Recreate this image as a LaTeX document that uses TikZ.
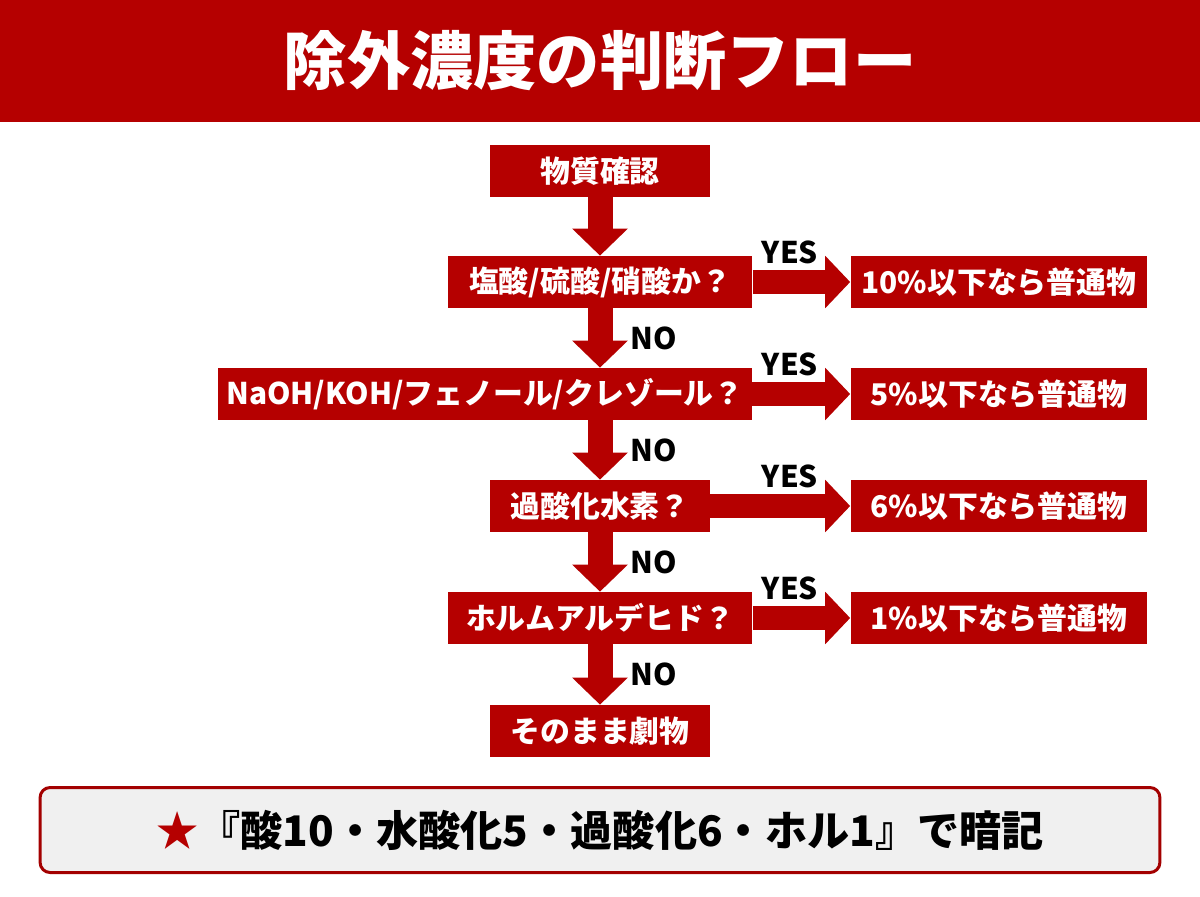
\documentclass[tikz,border=0pt]{standalone}
\usepackage{fontspec}
\setmainfont{Noto Sans CJK JP}
\usetikzlibrary{arrows.meta, calc}
\definecolor{flow-red}{HTML}{B50000}
\definecolor{note-gray}{HTML}{F0F0F0}
\definecolor{note-border}{HTML}{A30000}
\tikzset{
    my-title/.style={
        fill=flow-red, text=white, inner sep=0pt,
        minimum width=24cm, minimum height=2.44cm,
        font=\fontsize{36}{40}\selectfont\bfseries
    },
    my-step/.style={
        fill=flow-red, text=white, inner sep=0pt, minimum height=1.04cm,
        font=\fontsize{17}{20}\selectfont\bfseries
    },
    my-label/.style={
        inner sep=0pt, font=\fontsize{17}{20}\selectfont\bfseries
    },
    my-down-arrow/.style={
        draw=flow-red, line width=0.5cm, -{Triangle[length=0.54cm, width=1.08cm]}
    },
    my-yes-arrow/.style={
        draw=flow-red, line width=0.47cm, -{Triangle[length=0.5cm, width=1.02cm]}
    },
    my-note/.style={
        draw=note-border, fill=note-gray, line width=0.06cm, rounded corners=0.2cm,
        minimum width=22.4cm, minimum height=1.7cm, inner sep=0pt,
        font=\fontsize{24}{28}\selectfont\bfseries
    },
}

\begin{document}
\begin{tikzpicture}[x=0.02cm, y=-0.02cm]

        \useasboundingbox (0,0) rectangle (1200,896);

        % TITLE
        \node[my-title] (TITLE) at (600,61) {除外濃度の判断フロー};

        % DECISION STEPS
        \node[my-step, minimum width=4.4cm]   (START) at (600,171) {物質確認};
        \node[my-step, minimum width=6.1cm]   (Q1)    at (600,282) {塩酸/硫酸/硝酸か？};
        \node[my-step, minimum width=10.68cm] (Q2)    at (485,394) {NaOH/KOH/フェノール/クレゾール？};
        \node[my-step, minimum width=4.4cm]   (Q3)    at (600,506) {過酸化水素？};
        \node[my-step, minimum width=6.1cm]   (Q4)    at (600,618) {ホルムアルデヒド？};
        \node[my-step, minimum width=4.4cm]   (END)   at (600,731) {そのまま劇物};

        % RESULTS
        \node[my-step, minimum width=5.94cm] (R1) at (999,282) {10\%以下なら普通物};
        \node[my-step, minimum width=5.94cm] (R2) at (999,394) {5\%以下なら普通物};
        \node[my-step, minimum width=5.94cm] (R3) at (999,506) {6\%以下なら普通物};
        \node[my-step, minimum width=5.94cm] (R4) at (999,618) {1\%以下なら普通物};

        % NO ARROWS
        \draw[my-down-arrow] (START) -- (Q1);
        \draw[my-down-arrow] (Q1.south) -- (Q1.south |- Q2.north);
        \draw[my-down-arrow] (Q1.south |- Q2.south) -- (Q3.north);
        \draw[my-down-arrow] (Q3) -- (Q4);
        \draw[my-down-arrow] (Q4) -- (END);

        % YES ARROWS
        \draw[my-yes-arrow] (Q1) -- (R1);
        \draw[my-yes-arrow] (Q2) -- (R2);
        \draw[my-yes-arrow] (Q3) -- (R3);
        \draw[my-yes-arrow] (Q4) -- (R4);

        % LABELS
        \foreach \row/\ypos in {1/282, 2/394, 3/506, 4/618} {
            \node[my-label] (YES\row) at (790,\ypos-30) {YES};
            \node[my-label] (NO\row)  at (654,\ypos+56) {NO};
        }

        % MEMO BOX
        \node[my-note] (NOTE) at (600,830) {\textcolor{flow-red}{★}『酸10・水酸化5・過酸化6・ホル1』で暗記};

    \end{tikzpicture}
\end{document}
